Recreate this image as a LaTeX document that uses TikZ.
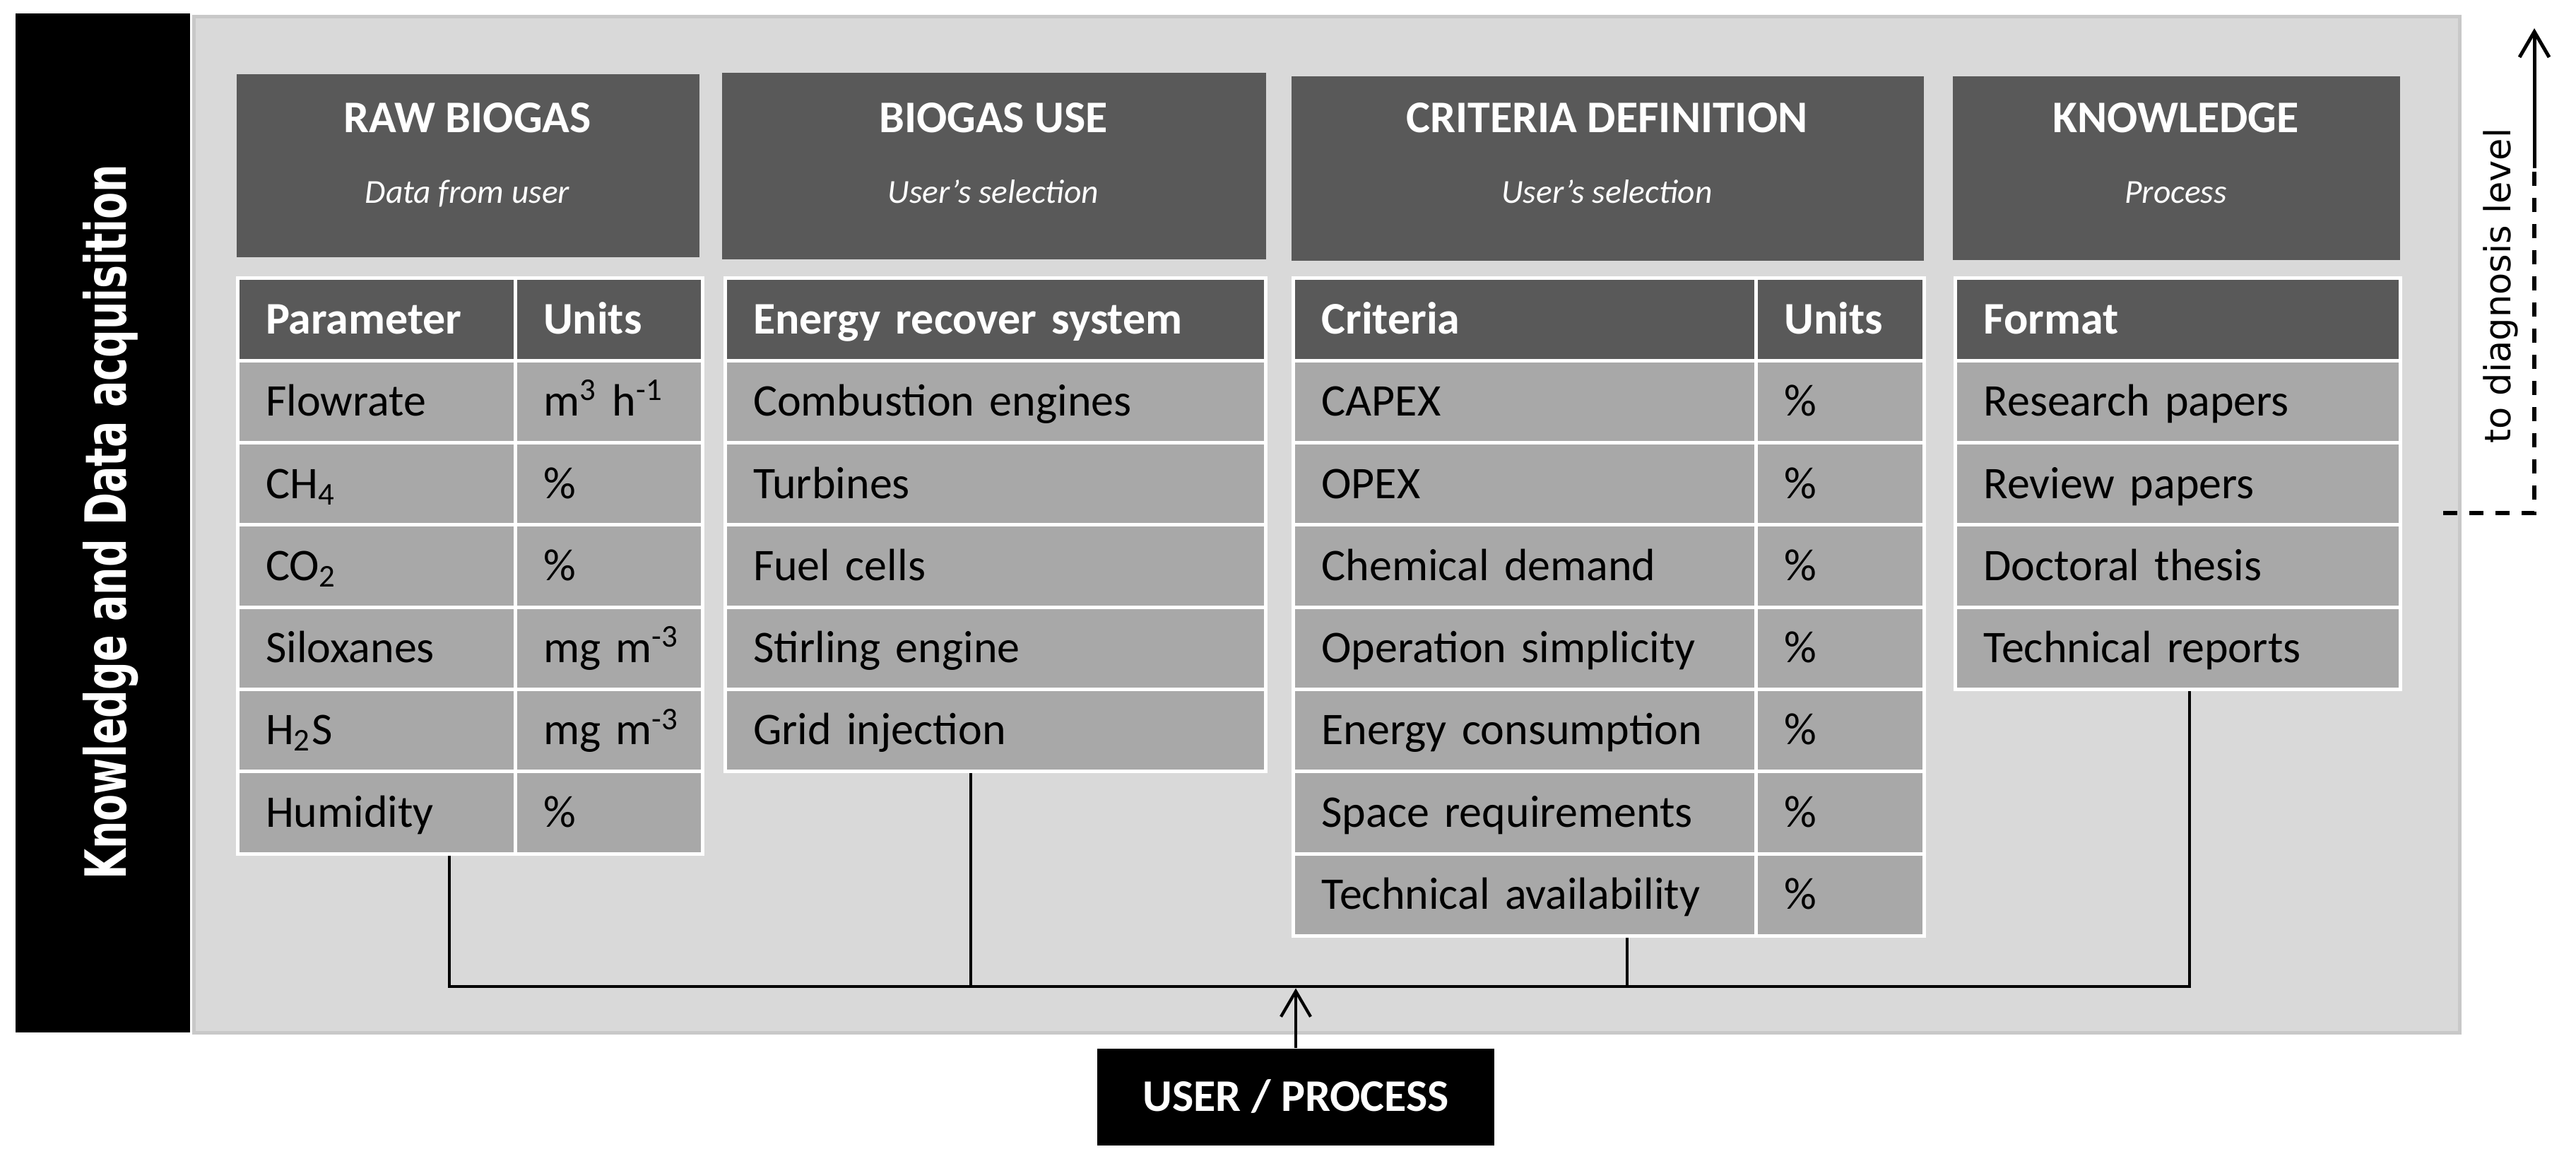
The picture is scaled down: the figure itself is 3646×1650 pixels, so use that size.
\documentclass[tikz,border=0pt]{standalone}
\usepackage{fontspec}
\setmainfont{Carlito}
\newfontfamily\dejavu{DejaVu Sans}
\usepackage{graphicx}
\usetikzlibrary{arrows.meta}
\definecolor{dgray}{HTML}{595959}
\definecolor{lgray}{HTML}{A8A8A8}
\definecolor{pgray}{HTML}{D9D9D9}
\definecolor{pborder}{HTML}{C8C8C8}
\tikzset{
 basecell/.style={rectangle, draw=white, line width=1pt, inner xsep=8pt, inner ysep=0pt, align=left, text height=8.1pt, text depth=0pt},
 hdrcell/.style={basecell, fill=dgray, text=white, font=\fontsize{12.8}{15}\selectfont\bfseries},
 datcell/.style={basecell, fill=lgray, text=black, font=\fontsize{12.8}{15}\selectfont},
 titlebox/.style={rectangle, fill=dgray, inner sep=0pt},
 titletxt/.style={text=white, inner sep=0pt, font=\fontsize{12.8}{15}\selectfont\bfseries, text height=8.1pt, text depth=0pt},
 subtxt/.style={text=white, inner sep=0pt, font=\fontsize{9.5}{11}\selectfont\itshape, text height=6pt, text depth=0pt},
 panelbox/.style={rectangle, fill=pgray, draw=pborder, line width=1pt, inner sep=0pt},
 blackbar/.style={rectangle, fill=black, inner sep=0pt},
 userbox/.style={rectangle, fill=black, text=white, inner sep=0pt, minimum width=112.4pt, minimum height=27.4pt, font=\fontsize{12.8}{15}\selectfont\bfseries, text height=8.1pt, text depth=0pt},
 conn/.style={draw=black, line width=0.8pt},
 bus/.style={draw=black, line width=0.95pt, line cap=rect},
 uparrow/.style={draw=black, line width=0.85pt, -{Straight Barb[length=7.2pt,width=8.4pt]}},
 dashln/.style={draw=black, line width=1.2pt, dash pattern=on 4pt off 3.4pt},
}
% name, x1, x2, row, style, text
\newcommand\tcell[6]{\node[#5, anchor=north west, minimum width={(#3-#2)*0.2pt}, minimum height=23.26pt, text width={(#3-#2)*0.2pt-16pt}] (#1) at ({#2},{391.5+116.3*#4}) {\mbox{#6}};}
% name, x1, y1, x2, y2, title, subtitle
\newcommand\headbox[7]{%
 \node[titlebox, anchor=north west, minimum width={(#4-#2)*0.2pt}, minimum height={(#5-#3)*0.2pt}] (#1) at (#2,#3) {};
 \node[titletxt] (#1t) at ({(#2+#4)/2},167) {#6};
 \node[subtxt] (#1s) at ({(#2+#4)/2},273) {#7};}
\begin{document}
\begin{tikzpicture}[x=0.2pt, y=-0.2pt]
\fill[white] (0,0) rectangle (3646,1650);
\useasboundingbox (0,0) rectangle (3646,1650);
% panel and side bar
\node[panelbox, anchor=north west, minimum width=641.4pt, minimum height=287.4pt] (panel) at (271.5,21.5) {};
\node[blackbar, anchor=north west, minimum width=49.4pt, minimum height=288.4pt] (bar) at (21,18) {};
\node[rotate=90, anchor=base, inner sep=0pt, text=white, font=\dejavu\bfseries\fontsize{11.1}{13}\selectfont] (kda) at (178,739) {\scalebox{1}[1.45]{Knowledge and Data acquisition}};
% header boxes
\headbox{hraw}{334}{104}{989}{363}{RAW BIOGAS}{Data from user}
\headbox{huse}{1021}{102}{1791}{366}{BIOGAS USE}{User’s selection}
\headbox{hcrit}{1827}{107}{2722}{368}{CRITERIA DEFINITION}{User’s selection}
\headbox{hknow}{2763}{107}{3396}{367}{KNOWLEDGE}{Process}
% RAW BIOGAS table
\tcell{r0a}{333.5}{726.5}{0}{hdrcell}{Parameter}
\tcell{r0b}{726.5}{991.5}{0}{hdrcell}{Units}
\tcell{r1a}{333.5}{726.5}{1}{datcell}{Flowrate}
\tcell{r1b}{726.5}{991.5}{1}{datcell}{m\textsuperscript{3} h\textsuperscript{-1}}
\tcell{r2a}{333.5}{726.5}{2}{datcell}{CH\textsubscript{4}}
\tcell{r2b}{726.5}{991.5}{2}{datcell}{\%}
\tcell{r3a}{333.5}{726.5}{3}{datcell}{CO\textsubscript{2}}
\tcell{r3b}{726.5}{991.5}{3}{datcell}{\%}
\tcell{r4a}{333.5}{726.5}{4}{datcell}{Siloxanes}
\tcell{r4b}{726.5}{991.5}{4}{datcell}{mg~m\textsuperscript{-3}}
\tcell{r5a}{333.5}{726.5}{5}{datcell}{H\textsubscript{2}S}
\tcell{r5b}{726.5}{991.5}{5}{datcell}{mg~m\textsuperscript{-3}}
\tcell{r6a}{333.5}{726.5}{6}{datcell}{Humidity}
\tcell{r6b}{726.5}{991.5}{6}{datcell}{\%}
% BIOGAS USE table
\tcell{e0}{1023.5}{1789}{0}{hdrcell}{Energy recover system}
\tcell{e1}{1023.5}{1789}{1}{datcell}{Combustion engines}
\tcell{e2}{1023.5}{1789}{2}{datcell}{Turbines}
\tcell{e3}{1023.5}{1789}{3}{datcell}{Fuel cells}
\tcell{e4}{1023.5}{1789}{4}{datcell}{Stirling engine}
\tcell{e5}{1023.5}{1789}{5}{datcell}{Grid injection}
% CRITERIA table
\tcell{c0a}{1828}{2483}{0}{hdrcell}{Criteria}
\tcell{c0b}{2483}{2721}{0}{hdrcell}{Units}
\tcell{c1a}{1828}{2483}{1}{datcell}{CAPEX}
\tcell{c1b}{2483}{2721}{1}{datcell}{\%}
\tcell{c2a}{1828}{2483}{2}{datcell}{OPEX}
\tcell{c2b}{2483}{2721}{2}{datcell}{\%}
\tcell{c3a}{1828}{2483}{3}{datcell}{Chemical demand}
\tcell{c3b}{2483}{2721}{3}{datcell}{\%}
\tcell{c4a}{1828}{2483}{4}{datcell}{Operation simplicity}
\tcell{c4b}{2483}{2721}{4}{datcell}{\%}
\tcell{c5a}{1828}{2483}{5}{datcell}{Energy consumption}
\tcell{c5b}{2483}{2721}{5}{datcell}{\%}
\tcell{c6a}{1828}{2483}{6}{datcell}{Space requirements}
\tcell{c6b}{2483}{2721}{6}{datcell}{\%}
\tcell{c7a}{1828}{2483}{7}{datcell}{Technical availability}
\tcell{c7b}{2483}{2721}{7}{datcell}{\%}
% KNOWLEDGE table
\tcell{k0}{2765}{3395}{0}{hdrcell}{Format}
\tcell{k1}{2765}{3395}{1}{datcell}{Research papers}
\tcell{k2}{2765}{3395}{2}{datcell}{Review papers}
\tcell{k3}{2765}{3395}{3}{datcell}{Doctoral thesis}
\tcell{k4}{2765}{3395}{4}{datcell}{Technical reports}
% user box
\node[userbox] (user) at (1834,1552.5) {USER / PROCESS};
% connectors
\coordinate (b1) at (636,1396);
\coordinate (b2) at (1374,1396);
\coordinate (b3) at (2303,1396);
\coordinate (b4) at (3099,1396);
\coordinate (btip) at (0,1398.5);
\draw[conn] (b1 |- r6a.south) -- (b1);
\draw[conn] (b2 |- e5.south) -- (b2);
\draw[conn] (b3 |- c7a.south) -- (b3);
\draw[conn] (b4 |- k4.south) -- (b4);
\draw[bus] (b1) -- (b4);
\draw[uparrow] (user.north) -- (user.north |- btip);
% to diagnosis level
\coordinate (d0) at (3458,725.7);
\coordinate (d1) at (3587,725.7);
\coordinate (d2) at (3587,238);
\coordinate (d3) at (3587,40);
\draw[dashln] (d0) -- (d1) -- (d2);
\draw[uparrow, line width=1pt] (d2) -- (d3);
\node[rotate=90, anchor=base, inner sep=0pt, font=\dejavu\fontsize{10.2}{12}\selectfont] (diag) at (3553,404.5) {to diagnosis level};
\end{tikzpicture}
\end{document}
